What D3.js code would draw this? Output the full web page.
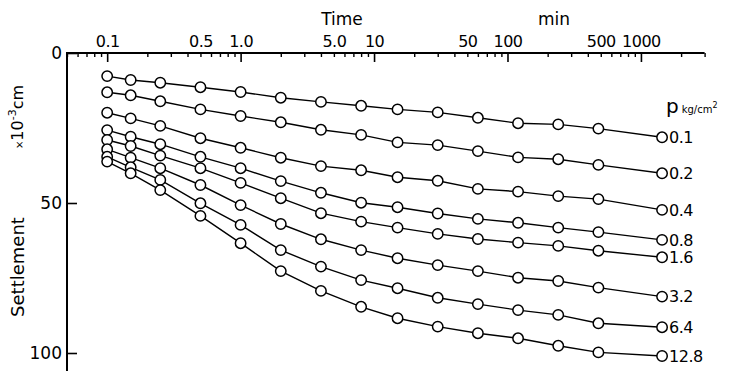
<!DOCTYPE html>
<html>
<head>
<meta charset="utf-8">
<script src="https://cdn.jsdelivr.net/npm/d3@7"></script>
<style>
  html, body { margin: 0; padding: 0; background: #fff; }
  svg { display: block; }
  text { font-family: "DejaVu Sans", sans-serif; fill: #000; }
</style>
</head>
<body>
<svg id="chart" width="735" height="371"></svg>
<script>
// ---- data ----
const times = [0.1, 0.15, 0.25, 0.5, 1, 2, 4, 8, 15, 30, 60, 120, 240, 480, 1440]; // min
const pressures = ["0.1", "0.2", "0.4", "0.8", "1.6", "3.2", "6.4", "12.8"]; // kg/cm2
const s01  = [7.7, 9.0, 9.9, 11.4, 13.0, 14.9, 16.3, 17.6, 18.8, 19.8, 21.6, 23.4, 23.8, 25.2, 28.1];
const s02  = [13.1, 14.1, 16.1, 18.8, 21.0, 23.1, 25.6, 27.3, 29.8, 30.7, 32.7, 34.8, 35.4, 37.3, 40.1];
const s04  = [19.9, 21.8, 24.3, 28.4, 31.6, 34.9, 37.7, 39.1, 41.4, 42.6, 45.3, 46.2, 47.7, 48.7, 52.3];
const s08  = [25.7, 27.9, 30.4, 34.6, 38.4, 42.7, 46.6, 49.9, 51.4, 53.5, 55.3, 56.6, 58.2, 59.7, 62.3];
const s16  = [29.0, 31.0, 34.2, 38.4, 43.3, 48.4, 53.4, 56.2, 58.2, 60.3, 62.0, 63.2, 64.3, 65.9, 68.1];
const s32  = [32.1, 34.9, 38.4, 44.0, 50.7, 57.0, 62.1, 65.7, 68.4, 70.7, 72.7, 74.9, 76.0, 78.2, 81.2];
const s64  = [34.6, 38.1, 42.3, 50.1, 57.3, 65.7, 71.2, 75.7, 78.4, 81.6, 83.7, 85.7, 87.3, 90.1, 91.4];
const s128 = [36.2, 40.1, 45.7, 54.3, 63.4, 72.7, 79.3, 84.6, 88.4, 91.2, 93.4, 95.1, 97.6, 99.8, 101.0];
const seriesValues = [s01, s02, s04, s08, s16, s32, s64, s128];
const xTickValues = [0.1, 0.5, 1, 5, 10, 50, 100, 500, 1000];
const xTickLabels = ["0.1", "0.5", "1.0", "5.0", "10", "50", "100", "500", "1000"];
const yTickValues = [0, 50, 100];
const yTickLabels = ["0", "50", "100"];

// ---- layout ----
const svg = d3.select("#chart");
const x = d3.scaleLog().domain([0.05, 3000]).range([67, 704.6]);
const y = d3.scaleLinear().domain([0, 100]).range([53, 353]);

// top axis: minor ticks
const majors = [0.1, 1, 10, 100, 1000];
const minorTicks = x.ticks().filter(v => !majors.some(m => Math.abs(v - m) < 1e-9));
const gTop = svg.append("g").attr("transform", `translate(0,${y(0)})`);
gTop.append("g")
  .call(d3.axisTop(x).tickValues(minorTicks).tickSizeInner(-4).tickSizeOuter(0).tickFormat(""))
  .call(g => g.select(".domain").remove())
  .call(g => g.selectAll("line").attr("stroke", "#000").attr("stroke-width", 1.4));
gTop.append("g")
  .call(d3.axisTop(x).tickValues(majors).tickSizeInner(-9).tickSizeOuter(0).tickFormat(""))
  .call(g => g.select(".domain").remove())
  .call(g => g.selectAll("line").attr("stroke", "#000").attr("stroke-width", 1.6));
gTop.append("g")
  .call(d3.axisTop(x).tickValues(xTickValues).tickSize(0).tickPadding(6)
        .tickFormat((d, i) => xTickLabels[i]))
  .call(g => g.select(".domain").remove())
  .call(g => g.selectAll("text").attr("font-size", 16).attr("font-family", "DejaVu Sans").attr("letter-spacing", -0.5));
gTop.append("line")
  .attr("x1", x.range()[0]).attr("x2", x.range()[1]).attr("y1", 0).attr("y2", 0)
  .attr("stroke", "#000").attr("stroke-width", 2);

// left axis
const gLeft = svg.append("g").attr("transform", `translate(${x.range()[0]},0)`);
gLeft.append("g")
  .call(d3.axisLeft(y).tickValues(yTickValues).tickSizeInner(-10).tickSizeOuter(0).tickPadding(5)
        .tickFormat((d, i) => yTickLabels[i]))
  .call(g => g.select(".domain").remove())
  .call(g => g.selectAll("line").attr("stroke", "#000").attr("stroke-width", 1.6))
  .call(g => g.selectAll("text").attr("font-size", 17).attr("font-family", "DejaVu Sans"));
gLeft.append("line")
  .attr("x1", 0).attr("x2", 0).attr("y1", y(0) - 1).attr("y2", 371)
  .attr("stroke", "#000").attr("stroke-width", 2);

// axis titles
svg.append("text").attr("x", 342).attr("y", 25).attr("text-anchor", "middle")
  .attr("font-size", 17).text("Time");
svg.append("text").attr("x", 554).attr("y", 25).attr("text-anchor", "middle")
  .attr("font-size", 17).text("min");

svg.append("text").attr("transform", "translate(24,267) rotate(-90)")
  .attr("text-anchor", "middle").attr("font-size", 18).text("Settlement");
const unit = svg.append("text").attr("transform", "translate(23,117) rotate(-90)")
  .attr("text-anchor", "middle").attr("font-size", 16);
unit.append("tspan").attr("font-size", 10).text("×");
unit.append("tspan").text("10");
unit.append("tspan").attr("font-size", 11).attr("dy", -7).text("-3");
unit.append("tspan").attr("dy", 7).text("cm");

// series
const line = d3.line().x((d, i) => x(times[i])).y(d => y(d));
const gSeries = svg.append("g");
seriesValues.forEach((vals, k) => {
  gSeries.append("path").datum(vals).attr("d", line)
    .attr("fill", "none").attr("stroke", "#000").attr("stroke-width", 1.4);
});
seriesValues.forEach((vals, k) => {
  gSeries.selectAll(null).data(vals).enter().append("circle")
    .attr("cx", (d, i) => x(times[i])).attr("cy", d => y(d)).attr("r", 5.2)
    .attr("fill", "#fff").attr("stroke", "#000").attr("stroke-width", 1.5);
  gSeries.append("text")
    .attr("x", x(times[times.length - 1]) + 7).attr("y", y(vals[vals.length - 1]))
    .attr("dy", "0.36em").attr("font-size", 16).attr("letter-spacing", -0.5)
    .text(pressures[k]);
});

// legend title p kg/cm2
const pt = svg.append("text").attr("x", 666).attr("y", 113);
pt.append("tspan").attr("font-size", 20).text("p");
pt.append("tspan").attr("font-size", 10).attr("dx", 3).text("kg/cm");
pt.append("tspan").attr("font-size", 8).attr("dy", -5).text("2");
</script>
</body>
</html>
